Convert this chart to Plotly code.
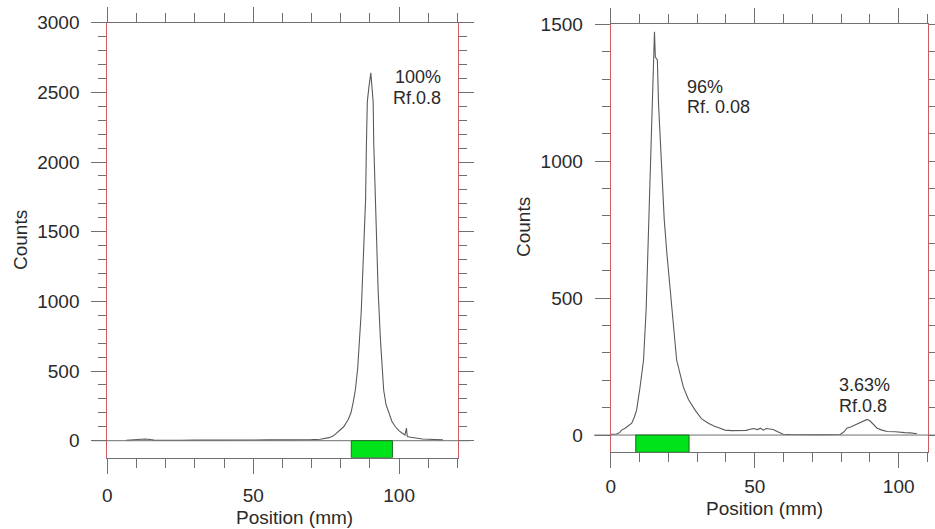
import plotly.graph_objects as go

# ---------------- data ----------------
left_pos = [6.5, 8, 9, 10, 11, 12, 13, 14, 15, 16, 18, 20, 25, 30, 35, 40, 45, 50, 55, 60, 65, 70, 73, 75, 76,
            77.5, 79, 81, 82.5, 83.5, 84.3, 85, 85.8, 86.5, 87, 87.3, 87.9, 88.5, 88.8, 89.1, 89.6, 90.0, 90.3,
            90.6, 91.1, 91.3, 91.9, 92.2, 92.5, 92.8, 93.6, 94.1, 94.7, 95.5, 96.4, 97.5, 98.7, 100, 101, 102,
            102.5, 102.8, 104, 106, 108, 110, 112, 115]
left_counts = [3, 5, 8, 12, 14, 15, 12, 10, 6, 4, 3, 2, 3, 4, 3, 5, 4, 5, 6, 5, 7, 8, 10, 15, 22,
               35, 60, 100, 150, 200, 280, 364, 520, 722, 920, 1081, 1420, 1727, 2137, 2433, 2530, 2580, 2640,
               2560, 2433, 2137, 1727, 1500, 1250, 1080, 722, 520, 364, 260, 199, 140, 100, 70, 55, 41,
               90, 30, 25, 18, 12, 10, 8, 6]

right_pos = [0, 1, 2, 3, 3.8, 5, 6, 7.3, 8.2, 9.0, 10.2, 11.4, 12.3, 12.9, 13.4, 13.7, 13.9, 14.5, 15.2, 15.5,
             16.2, 16.6, 17.7, 18.3, 18.6, 19.5, 21.2, 22.9, 25.2, 27, 29.3, 31.5, 33.9, 36, 38, 39.7, 42, 45,
             47, 49.5, 51, 52, 53, 54, 56.4, 58, 59.9, 62, 65, 70, 75, 79.7, 81, 82, 83.5, 84.9, 86, 87, 89,
             90, 91, 92.5, 94.2, 96, 98.9, 100, 102, 104, 106.4]
right_counts = [3, 3, 4, 8, 18, 25, 33, 43, 65, 91, 176, 274, 456, 664, 785, 870, 992, 1211, 1473, 1380,
                1370, 1211, 992, 884, 785, 664, 456, 274, 176, 130, 91, 60, 43, 32, 25, 18, 16, 15,
                17, 24, 20, 25, 18, 24, 20, 12, 3, 2, 1, 1, 1, 2, 12, 25, 30, 37, 42, 50, 57,
                52, 40, 25, 18, 13, 12, 10, 9, 8, 5]

left_band = [83.6, 97.7]
right_band = [8.7, 27.2]

left_labels = ["100%", "Rf.0.8"]
right_labels_main = ["96%", "Rf. 0.08"]
right_labels_minor = ["3.63%", "Rf.0.8"]

left_yticks = [0, 500, 1000, 1500, 2000, 2500, 3000]
right_yticks = [0, 500, 1000, 1500]

# ---------------- layout constants ----------------
W, H = 935, 529
FONT = "Liberation Sans, Arial, sans-serif"
TXT = "#2a2a2a"
AX = "#707070"
RED = "#d05a64"
CURVE = "#5a5a5a"

L_YMIN, L_YMAX = -122, 3000
R_YMIN, R_YMAX = -63, 1500


def px(xp):
    return xp / W


def py(yp):
    return (H - yp) / H


fig = go.Figure()
fig.add_trace(go.Scatter(x=left_pos, y=left_counts, mode="lines",
                         line=dict(color=CURVE, width=1.1), xaxis="x", yaxis="y", showlegend=False))
fig.add_trace(go.Scatter(x=right_pos, y=right_counts, mode="lines",
                         line=dict(color=CURVE, width=1.1), xaxis="x2", yaxis="y2", showlegend=False))


def xaxis_style(dom, rng, anchor, standoff):
    return dict(domain=dom, range=rng, anchor=anchor, showgrid=False, zeroline=False, automargin=False,
                showline=True, linecolor=AX, linewidth=1, mirror="ticks",
                ticks="outside", ticklen=15, tickcolor=AX, tickwidth=1,
                tickmode="array", tickvals=[0, 50, 100], ticktext=["0", "50", "100"],
                ticklabelstandoff=standoff,
                minor=dict(tickmode="linear", tick0=0, dtick=10, ticks="outside",
                           ticklen=9, tickcolor=AX, tickwidth=1, showgrid=False),
                tickfont=dict(family=FONT, size=19, color=TXT), fixedrange=True)


def yaxis_style(dom, rng, anchor, major, minor_vals):
    return dict(domain=dom, range=rng, anchor=anchor, showgrid=False, zeroline=False, automargin=False,
                showline=True, linecolor=RED, linewidth=1, mirror="ticks",
                ticks="outside", ticklen=15, tickcolor=AX, tickwidth=1,
                tickmode="array", tickvals=major, ticktext=[str(v) for v in major],
                ticklabelstandoff=8,
                minor=dict(tickmode="array", tickvals=minor_vals, ticks="outside",
                           ticklen=8, tickcolor=AX, tickwidth=1, showgrid=False),
                tickfont=dict(family=FONT, size=19, color=TXT), fixedrange=True)


left_minor = [v for v in range(100, 3000, 100) if v % 500]
right_minor = [v for v in range(100, 1500, 100) if v % 500]

fig.update_layout(
    width=W, height=H, margin=dict(l=0, r=0, t=0, b=0, autoexpand=False),
    paper_bgcolor="white", plot_bgcolor="white",
    xaxis=xaxis_style([px(107.3), px(457.5)], [0, 120], "y", 5),
    yaxis=yaxis_style([py(457.7), py(22.7)], [L_YMIN, L_YMAX], "x", left_yticks, left_minor),
    xaxis2=xaxis_style([px(610.7), px(927.5)], [0, 110], "y2", 2),
    yaxis2=yaxis_style([py(452.3), py(24.3)], [R_YMIN, R_YMAX], "x2", right_yticks, right_minor),
)

shapes = []
# zero baselines extended beyond plot area
shapes.append(dict(type="line", xref="paper", yref="y", x0=px(92), x1=px(470), y0=0, y1=0,
                   line=dict(color=AX, width=1)))
shapes.append(dict(type="line", xref="paper", yref="y2", x0=px(594), x1=px(935), y0=0, y1=0,
                   line=dict(color=AX, width=1)))
# green bands
shapes.append(dict(type="rect", xref="x", yref="y", x0=left_band[0], x1=left_band[1],
                   y0=L_YMIN, y1=0, fillcolor="#00e21a", line=dict(color="#1c6b1c", width=1)))
shapes.append(dict(type="rect", xref="x2", yref="y2", x0=right_band[0], x1=right_band[1],
                   y0=R_YMIN, y1=0, fillcolor="#00e21a", line=dict(color="#1c6b1c", width=1)))
fig.update_layout(shapes=shapes)

ann = []


def label(text, x, y, xref, yref, size=18, anchor="left"):
    ann.append(dict(text=text, x=x, y=y, xref=xref, yref=yref, showarrow=False,
                    xanchor=anchor, yanchor="middle", font=dict(family=FONT, size=size, color=TXT)))


label(left_labels[0], 98.0, 2610, "x", "y")
label(left_labels[1], 97.1, 2460, "x", "y")
label(right_labels_main[0], 25.8, 1271, "x2", "y2")
label(right_labels_main[1], 25.8, 1198, "x2", "y2")
label(right_labels_minor[0], 78.6, 183, "x2", "y2")
label(right_labels_minor[1], 78.6, 106, "x2", "y2")

# axis titles
label("Position (mm)", px(294), py(517), "paper", "paper", size=19, anchor="center")
label("Position (mm)", px(764), py(508), "paper", "paper", size=19, anchor="center")
ann.append(dict(text="Counts", x=px(20), y=py(240), xref="paper", yref="paper", showarrow=False,
                textangle=-90, xanchor="center", yanchor="middle",
                font=dict(family=FONT, size=19, color=TXT)))
ann.append(dict(text="Counts", x=px(523), y=py(227), xref="paper", yref="paper", showarrow=False,
                textangle=-90, xanchor="center", yanchor="middle",
                font=dict(family=FONT, size=19, color=TXT)))
fig.update_layout(annotations=ann)

fig.write_html("out.html", config={"displayModeBar": False},
               post_script="document.body.style.margin='0';document.body.style.overflow='hidden';")
